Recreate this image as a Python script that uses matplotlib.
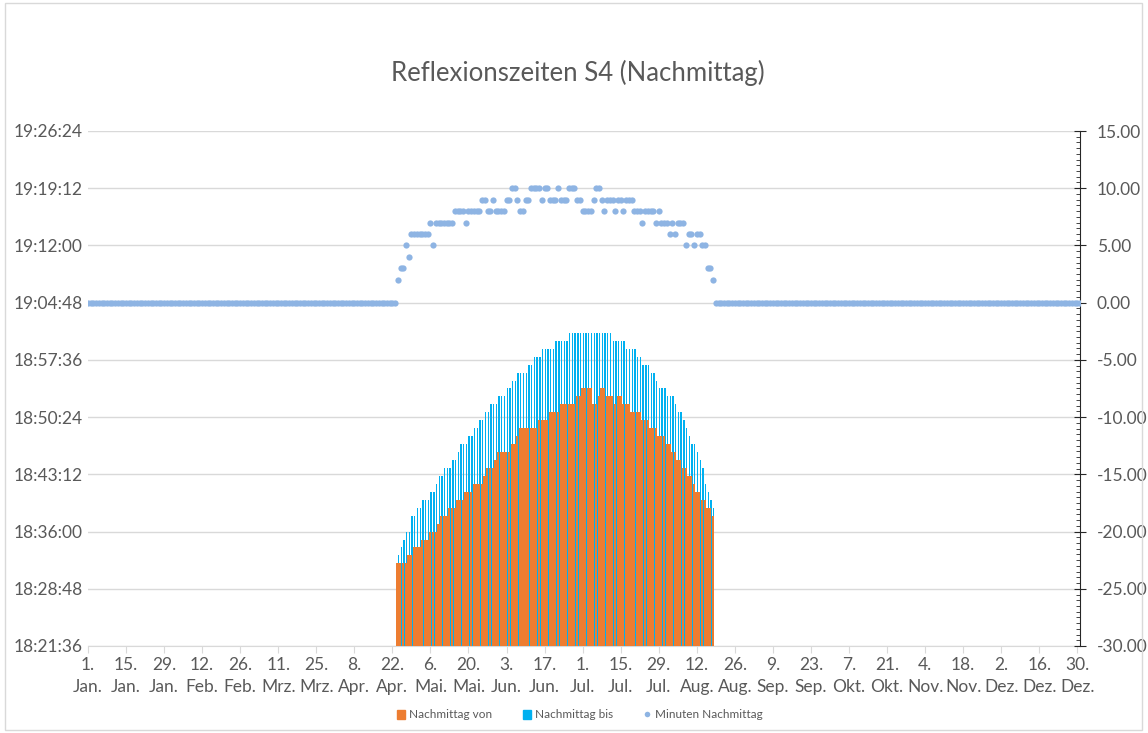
import numpy as np
import pandas as pd
import matplotlib
matplotlib.use('Agg')
import matplotlib.pyplot as plt
from matplotlib.ticker import FuncFormatter, MultipleLocator
from matplotlib.patches import Rectangle, Patch
from matplotlib.lines import Line2D

plt.rcParams['font.family'] = ['Lato', 'DejaVu Sans']

# Kategorien: jeder Tag des Jahres
tage = pd.date_range('2024-01-01', '2024-12-31', freq='D')
erster_tag = '2024-04-24'   # erster Tag mit Reflexion (bis 18.08.)

# Nachmittag von / bis in Minuten nach 18:00 Uhr, ein Wert pro Tag
von_min = [32, 32, 32, 32, 33, 33, 34, 34, 34, 35,
           35, 35, 36, 36, 36, 37, 38, 38, 38, 39,
           39, 39, 40, 40, 40, 41, 41, 41, 42, 42,
           42, 42, 43, 44, 44, 44, 45, 46, 46, 46,
           46, 46, 47, 47, 48, 49, 49, 49, 49, 49,
           49, 49, 50, 50, 50, 50, 51, 51, 51, 51,
           52, 52, 52, 52, 52, 52, 53, 53, 54, 54,
           54, 54, 52, 52, 53, 54, 54, 53, 53, 53,
           52, 53, 53, 52, 52, 52, 51, 51, 51, 51,
           50, 50, 50, 49, 49, 49, 48, 48, 48, 47,
           47, 46, 46, 45, 45, 44, 44, 43, 43, 42,
           41, 41, 40, 40, 39, 39, 38]
bis_min = [33, 34, 35, 36, 36, 38, 38, 39, 39, 40,
           40, 40, 41, 41, 42, 43, 43, 44, 44, 44,
           45, 45, 46, 47, 47, 47, 48, 48, 49, 49,
           50, 50, 51, 51, 52, 52, 52, 53, 53, 53,
           54, 54, 55, 55, 56, 56, 56, 56, 57, 57,
           58, 58, 58, 59, 59, 59, 59, 59, 60, 60,
           60, 60, 60, 61, 61, 61, 61, 61, 61, 61,
           61, 61, 61, 61, 61, 61, 61, 61, 61, 60,
           60, 60, 60, 60, 59, 59, 59, 59, 58, 58,
           57, 57, 57, 56, 56, 55, 54, 54, 54, 53,
           53, 53, 52, 51, 51, 50, 49, 48, 47, 47,
           46, 45, 44, 42, 41, 40, 39]
# Minuten Nachmittag (rechte Achse)
minuten = [2, 3, 3, 5, 4, 6, 6, 6, 6, 6,
           6, 6, 7, 5, 7, 7, 7, 7, 7, 7,
           7, 8, 8, 8, 8, 7, 8, 8, 8, 8,
           8, 9, 9, 8, 8, 9, 8, 8, 8, 8,
           9, 9, 10, 10, 9, 8, 8, 9, 9, 10,
           10, 10, 10, 9, 10, 10, 9, 9, 9, 10,
           9, 9, 9, 10, 10, 10, 9, 9, 8, 8,
           8, 8, 9, 10, 10, 9, 8, 9, 9, 9,
           8, 9, 9, 8, 9, 9, 9, 8, 8, 8,
           7, 8, 8, 8, 8, 7, 8, 7, 7, 7,
           6, 7, 6, 7, 7, 7, 5, 6, 6, 5,
           6, 6, 5, 5, 3, 3, 2]

tick_labels = ['1.\nJan.', '15.\nJan.', '29.\nJan.', '12.\nFeb.', '26.\nFeb.',
               '11.\nMrz.', '25.\nMrz.', '8.\nApr.', '22.\nApr.', '6.\nMai.',
               '20.\nMai.', '3.\nJun.', '17.\nJun.', '1.\nJul.', '15.\nJul.',
               '29.\nJul.', '12.\nAug.', '26.\nAug.', '9.\nSep.', '23.\nSep.',
               '7.\nOkt.', '21.\nOkt.', '4.\nNov.', '18.\nNov.', '2.\nDez.',
               '16.\nDez.', '30.\nDez.']

grau = '#595959'
y_min = 18 * 3600 + 21 * 60 + 36
y_max = 19 * 3600 + 26 * 60 + 24

start = tage.get_loc(pd.Timestamp(erster_tag))
x = np.arange(start, start + len(von_min))
von_sek = 18 * 3600 + np.array(von_min) * 60
bis_sek = 18 * 3600 + np.array(bis_min) * 60
minuten_jahr = np.zeros(len(tage))
minuten_jahr[start:start + len(minuten)] = minuten

fig = plt.figure(figsize=(11.48, 7.33), dpi=100)
ax = fig.add_axes([88 / 1148, 1 - 646 / 733, (1080 - 88) / 1148, (646 - 131) / 733])

# blau hinten, orange davor -> schmale blaue Streifen wie im Original
ax.bar(x + 0.25, bis_sek - y_min, bottom=y_min, width=0.5, color='#00B0F0', lw=0, zorder=2)
ax.bar(x - 0.075, von_sek - y_min, bottom=y_min, width=0.85, color='#ED7D31', lw=0, zorder=3)

ax.set_ylim(y_min, y_max)
ax.set_yticks(np.arange(y_min, y_max + 1, 432))
ax.yaxis.set_major_formatter(FuncFormatter(
    lambda v, p: '%d:%02d:%02d' % (v // 3600, (v % 3600) // 60, v % 60)))
ax.grid(axis='y', color='#D9D9D9', lw=1, zorder=0)
ax.set_axisbelow(True)
ax.set_xlim(0, len(tage) - 1)
ax.set_xticks(np.arange(0, len(tage), 14))
ax.set_xticklabels(tick_labels, linespacing=1.45)
ax.tick_params(axis='y', length=0, pad=4, labelsize=12.5, labelcolor=grau)
ax.tick_params(axis='x', length=5, color='#D9D9D9', labelsize=12.5, labelcolor=grau, pad=3)
for s in ['top', 'left', 'right']:
    ax.spines[s].set_visible(False)
ax.spines['bottom'].set_color('#D9D9D9')

ax2 = ax.twinx()
ax2.plot(np.arange(len(tage)), minuten_jahr, 'o', ms=4.5, color='#8EB4E3', mec='none', zorder=4)
ax2.set_ylim(-30, 15)
ax2.set_yticks(np.arange(-30, 16, 5))
ax2.yaxis.set_minor_locator(MultipleLocator(0.5))
ax2.yaxis.set_major_formatter(FuncFormatter(lambda v, p: '%.2f' % v))
ax2.tick_params(axis='y', which='major', direction='inout', length=8, color='#262626',
                labelsize=12.5, labelcolor=grau, pad=8)
ax2.tick_params(axis='y', which='minor', direction='in', length=3, color='#262626')
for s in ['top', 'left', 'bottom']:
    ax2.spines[s].set_visible(False)
ax2.spines['right'].set_color('#262626')

fig.text(578 / 1148, 1 - 73 / 733, 'Reflexionszeiten S4 (Nachmittag)',
         ha='center', va='center', fontsize=18.5, color=grau)

handles = [Patch(color='#ED7D31'), Patch(color='#00B0F0'),
           Line2D([], [], marker='o', ls='none', ms=4, color='#8EB4E3', mec='none')]
fig.legend(handles, ['Nachmittag von', 'Nachmittag bis', 'Minuten Nachmittag'],
           loc='center', bbox_to_anchor=(580 / 1148, 1 - 715 / 733), ncol=3,
           frameon=False, fontsize=8.5, labelcolor=grau, handlelength=0.7,
           handleheight=0.7, handletextpad=0.3, columnspacing=2.6)

fig.add_artist(Rectangle((5 / 1148, 3 / 733), 1137 / 1148, 727 / 733, transform=fig.transFigure,
                         fill=False, ec='#D9D9D9', lw=1))

fig.savefig('out.png', dpi=100)
